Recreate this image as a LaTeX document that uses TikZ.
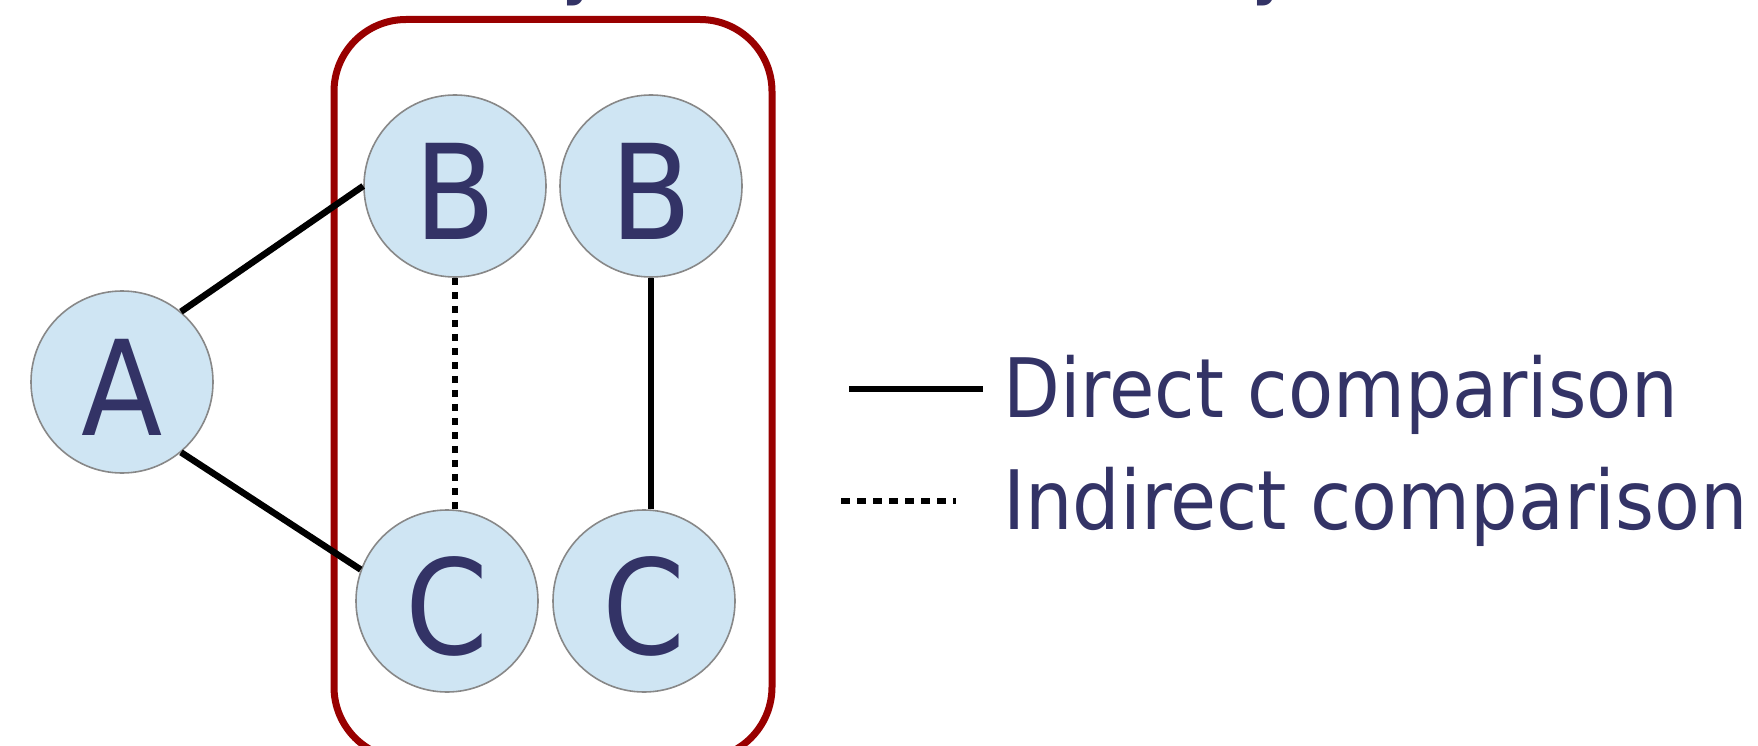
\documentclass[tikz,border=0pt]{standalone}
\usepackage{fontspec}
\setmainfont{DejaVu Sans}[FakeStretch=0.9]
\definecolor{navy}{RGB}{51,51,102}
\definecolor{boxred}{RGB}{153,0,0}
\definecolor{nodefill}{RGB}{207,229,243}
\definecolor{nodeedge}{RGB}{136,136,136}
\newcommand\lowerltr[1]{\raisebox{-5pt}[\height][\depth]{#1}}
\tikzset{
  letter/.style={circle, draw=nodeedge, line width=1.6pt, fill=nodefill, minimum size=182pt, inner sep=0pt, text=navy, font=\fontsize{132}{133}\selectfont},
  direct/.style={line width=6.5pt, black},
  indirect/.style={line width=6.5pt, black, dash pattern=on 7pt off 7pt},
  legendtext/.style={anchor=base west, text=navy, inner sep=0pt, font=\fontsize{82}{90}\selectfont},
  frag/.style={anchor=base, text=navy, inner sep=0pt, font=\fontsize{84}{90}\selectfont}
}
\begin{document}
\begin{tikzpicture}[x=1pt,y=-1pt]
\useasboundingbox (0,0) rectangle (1758,746);
% title fragments (cut off above)
\node[frag] (t1) at (584,-11) {y};
\node[frag] (t2) at (1274,-11) {y};
% group box
\draw[boxred, line width=7pt, rounded corners=72pt] (334,19.5) rectangle (772,759);
% nodes
\node[letter] (A) at (122,382) {\lowerltr{A}};
\node[letter] (B1) at (455,186) {\lowerltr{B}};
\node[letter] (B2) at (651,186) {\lowerltr{B}};
\node[letter] (C1) at (447,601) {\lowerltr{C}};
\node[letter] (C2) at (644,601) {\lowerltr{C}};
% connectors
\draw[direct] (A.50) -- (B1.west);
\draw[direct] (A.-50) -- (C1.160);
\draw[indirect] (B1.south) -- (B1.south |- C1.north);
\draw[direct] (B2.south) -- (B2.south |- C2.north);
% legend
\coordinate (l1a) at (849,389);
\coordinate (l1b) at (983,389);
\coordinate (l2a) at (841,501);
\coordinate (l2b) at (956,501);
\draw[direct] (l1a) -- (l1b);
\draw[black, line width=5.5pt, dash pattern=on 8.5pt off 7.5pt] (l2a) -- (l2b);
\node[legendtext] (d) at (1003,417) {Direct comparison};
\node[legendtext, xscale=1.015] (i) at (1003,529) {Indirect comparison};
\end{tikzpicture}
\end{document}
